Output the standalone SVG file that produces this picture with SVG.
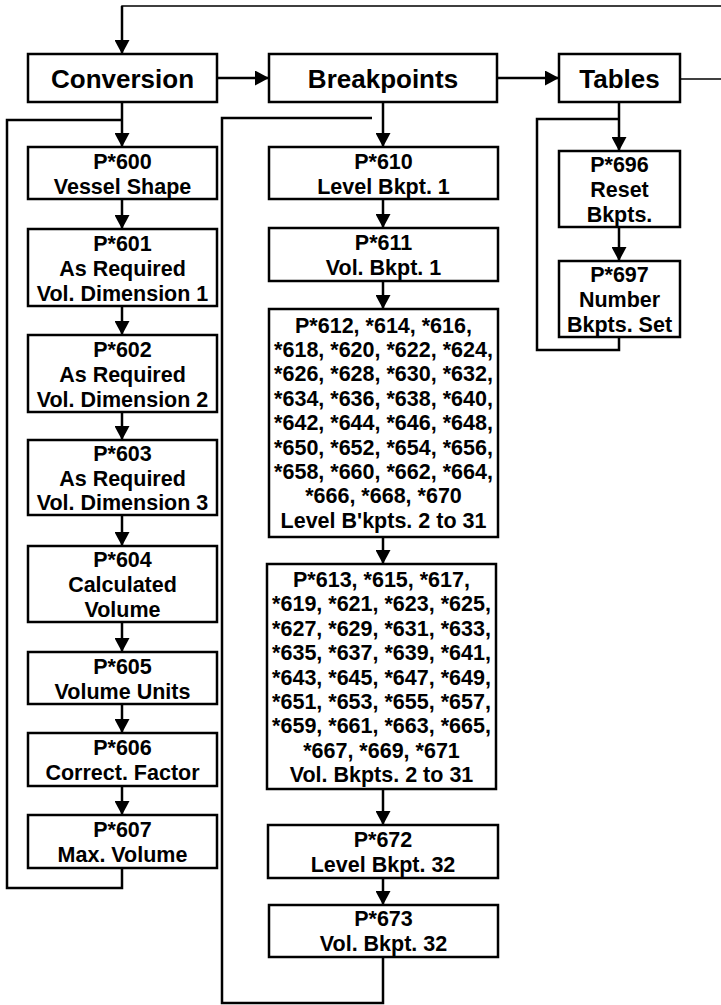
<svg xmlns="http://www.w3.org/2000/svg" width="721" height="1005" viewBox="0 0 721 1005">
<style>
.box{fill:#fff;stroke:#000;stroke-width:2.5}
.t{font-family:"Liberation Sans",Arial,sans-serif;font-weight:bold;font-size:21.5px;fill:#000;text-anchor:middle}
.h{font-size:26px}
.c{fill:none;stroke:#000;stroke-width:2.5}
.thin{fill:none;stroke:#000;stroke-width:1.5}
</style>
<defs>
<marker id="ah" markerUnits="userSpaceOnUse" markerWidth="15" markerHeight="15" refX="14" refY="7.5" orient="auto">
<path d="M0,0 L14,7.5 L0,15 z" fill="#000"/>
</marker>
</defs>
<g id="connectors">
<path class="thin" d="M721,6 H122 V40"/>
<line class="c" x1="122" y1="6" x2="122" y2="54" marker-end="url(#ah)"/>
<line class="thin" x1="680" y1="79" x2="721" y2="79"/>
<line class="c" x1="217" y1="78" x2="269" y2="78" marker-end="url(#ah)"/>
<line class="c" x1="497" y1="78" x2="559" y2="78" marker-end="url(#ah)"/>
<line class="c" x1="122" y1="102" x2="122" y2="147" marker-end="url(#ah)"/>
<line class="c" x1="122" y1="199" x2="122" y2="229" marker-end="url(#ah)"/>
<line class="c" x1="122" y1="306" x2="122" y2="335" marker-end="url(#ah)"/>
<line class="c" x1="122" y1="412" x2="122" y2="440" marker-end="url(#ah)"/>
<line class="c" x1="122" y1="515" x2="122" y2="546" marker-end="url(#ah)"/>
<line class="c" x1="122" y1="622" x2="122" y2="652" marker-end="url(#ah)"/>
<line class="c" x1="122" y1="704" x2="122" y2="733" marker-end="url(#ah)"/>
<line class="c" x1="122" y1="786" x2="122" y2="815" marker-end="url(#ah)"/>
<path class="c" d="M122,120 H7 V888 H122 V868"/>
<line class="c" x1="383" y1="102" x2="383" y2="147" marker-end="url(#ah)"/>
<line class="c" x1="383" y1="199" x2="383" y2="228" marker-end="url(#ah)"/>
<line class="c" x1="383" y1="281" x2="383" y2="309" marker-end="url(#ah)"/>
<line class="c" x1="383" y1="537" x2="383" y2="564" marker-end="url(#ah)"/>
<line class="c" x1="383" y1="789" x2="383" y2="825" marker-end="url(#ah)"/>
<line class="c" x1="383" y1="878" x2="383" y2="905" marker-end="url(#ah)"/>
<path class="c" d="M372,118 H222 V1003 H383 V957"/>
<line class="c" x1="619" y1="102" x2="619" y2="151" marker-end="url(#ah)"/>
<line class="c" x1="619" y1="227" x2="619" y2="261" marker-end="url(#ah)"/>
<path class="c" d="M619,119 H537 V350 H619 V337"/>
</g>
<g id="conversion"><rect class="box" x="28" y="54" width="189" height="48"/><text class="t h" x="122.5" y="87.5">Conversion</text></g>
<g id="breakpoints"><rect class="box" x="269" y="54" width="228" height="48"/><text class="t h" x="383" y="87.5">Breakpoints</text></g>
<g id="tables"><rect class="box" x="559" y="54" width="121" height="48"/><text class="t h" x="619.5" y="87.5">Tables</text></g>

<g id="p600"><rect class="box" x="28" y="147" width="189" height="52"/><text class="t" x="122.5"><tspan x="122.5" y="168.5">P*600</tspan><tspan x="122.5" y="193.5">Vessel Shape</tspan></text></g>
<g id="p601"><rect class="box" x="28" y="229" width="189" height="77"/><text class="t"><tspan x="122.5" y="250.5">P*601</tspan><tspan x="122.5" y="275.5">As Required</tspan><tspan x="122.5" y="300.5">Vol. Dimension 1</tspan></text></g>
<g id="p602"><rect class="box" x="28" y="335" width="189" height="77"/><text class="t"><tspan x="122.5" y="356.5">P*602</tspan><tspan x="122.5" y="381.5">As Required</tspan><tspan x="122.5" y="406.5">Vol. Dimension 2</tspan></text></g>
<g id="p603"><rect class="box" x="28" y="440" width="189" height="75"/><text class="t"><tspan x="122.5" y="460.5">P*603</tspan><tspan x="122.5" y="485.5">As Required</tspan><tspan x="122.5" y="510">Vol. Dimension 3</tspan></text></g>
<g id="p604"><rect class="box" x="28" y="546" width="189" height="76"/><text class="t"><tspan x="122.5" y="567">P*604</tspan><tspan x="122.5" y="592">Calculated</tspan><tspan x="122.5" y="617">Volume</tspan></text></g>
<g id="p605"><rect class="box" x="28" y="652" width="189" height="52"/><text class="t"><tspan x="122.5" y="673.5">P*605</tspan><tspan x="122.5" y="698.5">Volume Units</tspan></text></g>
<g id="p606"><rect class="box" x="28" y="733" width="189" height="53"/><text class="t"><tspan x="122.5" y="754.5">P*606</tspan><tspan x="122.5" y="779.5">Correct. Factor</tspan></text></g>
<g id="p607"><rect class="box" x="28" y="815" width="189" height="53"/><text class="t"><tspan x="122.5" y="836.5">P*607</tspan><tspan x="122.5" y="861.5">Max. Volume</tspan></text></g>

<g id="p610"><rect class="box" x="269" y="147" width="229" height="52"/><text class="t"><tspan x="383.5" y="168.5">P*610</tspan><tspan x="383.5" y="193.5">Level Bkpt. 1</tspan></text></g>
<g id="p611"><rect class="box" x="269" y="228" width="229" height="53"/><text class="t"><tspan x="383.5" y="249.5">P*611</tspan><tspan x="383.5" y="274.5">Vol. Bkpt. 1</tspan></text></g>
<g id="p612"><rect class="box" x="269" y="309" width="229" height="228"/><text class="t"><tspan x="383.5" y="332.5">P*612, *614, *616,</tspan><tspan x="383.5" y="356.9">*618, *620, *622, *624,</tspan><tspan x="383.5" y="381.3">*626, *628, *630, *632,</tspan><tspan x="383.5" y="405.7">*634, *636, *638, *640,</tspan><tspan x="383.5" y="430.1">*642, *644, *646, *648,</tspan><tspan x="383.5" y="454.5">*650, *652, *654, *656,</tspan><tspan x="383.5" y="478.9">*658, *660, *662, *664,</tspan><tspan x="383.5" y="503.3">*666, *668, *670</tspan><tspan x="383.5" y="527.7">Level B'kpts. 2 to 31</tspan></text></g>
<g id="p613"><rect class="box" x="267" y="564" width="229" height="225"/><text class="t"><tspan x="381.5" y="587">P*613, *615, *617,</tspan><tspan x="381.5" y="611.4">*619, *621, *623, *625,</tspan><tspan x="381.5" y="635.8">*627, *629, *631, *633,</tspan><tspan x="381.5" y="660.2">*635, *637, *639, *641,</tspan><tspan x="381.5" y="684.6">*643, *645, *647, *649,</tspan><tspan x="381.5" y="709">*651, *653, *655, *657,</tspan><tspan x="381.5" y="733.4">*659, *661, *663, *665,</tspan><tspan x="381.5" y="757.8">*667, *669, *671</tspan><tspan x="381.5" y="782.2">Vol. Bkpts. 2 to 31</tspan></text></g>
<g id="p672"><rect class="box" x="268" y="825" width="230" height="53"/><text class="t"><tspan x="383" y="846.5">P*672</tspan><tspan x="383" y="871.5">Level Bkpt. 32</tspan></text></g>
<g id="p673"><rect class="box" x="269" y="905" width="229" height="52"/><text class="t"><tspan x="383.5" y="926">P*673</tspan><tspan x="383.5" y="951">Vol. Bkpt. 32</tspan></text></g>

<g id="p696"><rect class="box" x="559" y="151" width="121" height="76"/><text class="t"><tspan x="619.5" y="172">P*696</tspan><tspan x="619.5" y="197">Reset</tspan><tspan x="619.5" y="222">Bkpts.</tspan></text></g>
<g id="p697"><rect class="box" x="559" y="261" width="121" height="76"/><text class="t"><tspan x="619.5" y="282">P*697</tspan><tspan x="619.5" y="307">Number</tspan><tspan x="619.5" y="332">Bkpts. Set</tspan></text></g>
</svg>
